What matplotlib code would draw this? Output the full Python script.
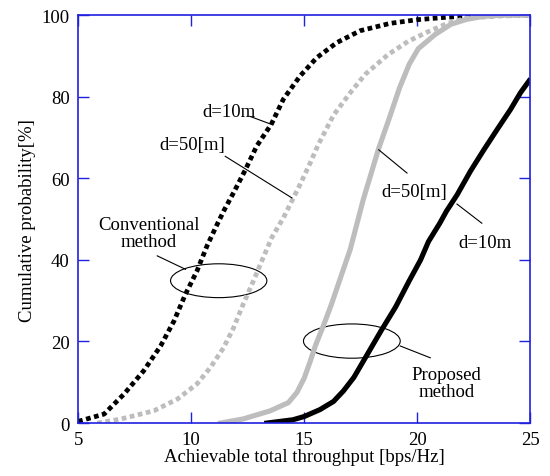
import matplotlib
matplotlib.use("Agg")
import matplotlib.pyplot as plt
from matplotlib.patches import Ellipse

# CDF curves, throughput [bps/Hz] vs cumulative probability [%]
conv10_x = [5.0, 6.15, 7.03, 7.9, 8.65, 9.24, 9.75, 10.26, 10.7, 11.15, 11.47, 11.88,
            12.4, 12.9, 13.55, 14.08, 14.82, 15.56, 16.45, 17.48, 18.8, 20.0, 21.3, 23.0, 25.0]
conv10_y = [0.4, 2.2, 7.1, 12.8, 18.9, 25.0, 31.6, 37.3, 43.4, 48.7, 52.3, 56.5,
            62.1, 67.9, 73.3, 79.4, 85.1, 89.6, 93.3, 96.2, 98.0, 98.9, 99.5, 100, 100]

conv50_x = [5.85, 6.9, 8.35, 9.4, 10.26, 10.85, 11.44, 11.88, 12.3, 12.76, 13.13, 13.57,
            14.09, 14.46, 14.82, 15.27, 15.6, 16.3, 17.04, 17.7, 18.7, 19.6, 20.5, 21.3,
            22.2, 23.7, 25.0]
conv50_y = [0, 1, 3, 5.9, 9.6, 13.6, 18.5, 23.4, 29.1, 34.9, 39.8, 45.5,
            50.4, 54.5, 58.5, 63.8, 68.0, 75.5, 81, 85.5, 90.3, 93.6, 96.0, 97.9,
            99.3, 99.8, 100]

prop50_x = [11.3, 12.3, 13.5, 14.3, 14.68, 15.0, 15.26, 15.5, 15.86, 16.2, 16.6, 17.04,
            17.62, 18.29, 18.8, 19.22, 19.65, 20.05, 20.8, 21.5, 22.2, 22.9, 23.7, 25.0]
prop50_y = [0, 1, 3, 5.0, 7.5, 11.0, 15.0, 19.0, 24.0, 29.0, 35.5, 42.6,
            54.9, 67.2, 75.3, 82.2, 88.0, 91.8, 95.3, 97.8, 99, 99.7, 100, 100]

prop10_x = [13.35, 14.5, 15.0, 15.7, 16.3, 16.74, 17.2, 17.8, 18.4, 19.05, 19.65, 20.15,
            20.5, 21.0, 21.3, 21.77, 22.36, 22.95, 23.54, 24.13, 24.57, 24.95]
prop10_y = [0, 0.8, 1.6, 3.3, 5.3, 7.9, 11.2, 16.9, 22.6, 28.5, 34.9, 40.0,
            44.5, 49.0, 52.0, 56.0, 61.8, 67, 72, 76.9, 81, 83.9]

x_ticks = [5, 10, 15, 20, 25]
y_ticks = [0, 20, 40, 60, 80, 100]

plt.rcParams['font.family'] = ['Liberation Serif', 'DejaVu Serif']
axis_blue = '#2020e0'
grey = '#bdbdbd'
fs = 13.5

fig = plt.figure(figsize=(5.5, 4.77), dpi=100)
ax = fig.add_axes([0.142, 0.111, 0.822, 0.855])

dots = (0, (1.0, 0.75))
ax.plot(conv10_x, conv10_y, color='black', lw=3.4, ls=dots, dash_capstyle='butt')
ax.plot(conv50_x, conv50_y, color=grey, lw=3.4, ls=dots, dash_capstyle='butt')
ax.plot(prop50_x, prop50_y, color=grey, lw=3.7, solid_joinstyle='round')
ax.plot(prop10_x, prop10_y, color='black', lw=3.7, solid_joinstyle='round')

ax.set_xlim(5, 25)
ax.set_ylim(0, 100)
ax.set_xticks(x_ticks)
ax.set_yticks(y_ticks)
ax.tick_params(direction='in', length=8, width=1, color=axis_blue,
               top=True, right=True, labelsize=fs, pad=6)
for sp in ax.spines.values():
    sp.set_color(axis_blue)
    sp.set_linewidth(1.2)

ax.set_xlabel('Achievable total throughput [bps/Hz]', fontsize=fs, labelpad=0)
ax.set_ylabel('Cumulative probability[%]', fontsize=fs, labelpad=4)

# curve labels with leader lines
kw = dict(fontsize=fs, ha='center', va='center')
ax.text(11.66, 76.5, 'd=10m', **kw)
ax.plot([12.6, 13.57], [75.2, 73.2], color='black', lw=0.8)
ax.text(10.04, 68.3, 'd=50[m]', **kw)
ax.plot([11.51, 14.46], [65.4, 55.2], color='black', lw=0.8)
ax.text(19.85, 56.8, 'd=50[m]', **kw)
ax.plot([18.3, 19.55], [67, 61.3], color='black', lw=0.8)
ax.text(23.0, 44.3, 'd=10m', **kw)
ax.plot([21.76, 22.86], [53.7, 49.0], color='black', lw=0.8)

# method groups
ax.text(8.13, 46.5, 'Conventional\nmethod', fontsize=fs, ha='center', va='center',
        linespacing=1.0)
ax.plot([8.5, 9.75], [41.0, 37.7], color='black', lw=0.8)
ax.add_patch(Ellipse((11.22, 34.9), 4.26, 8.3, fill=False, lw=0.8, ec='black'))

ax.text(21.3, 9.7, 'Proposed\nmethod', fontsize=fs, ha='center', va='center',
        linespacing=1.0)
ax.plot([19.25, 20.58], [18.9, 16.0], color='black', lw=0.8)
ax.add_patch(Ellipse((17.11, 20.1), 4.28, 8.4, fill=False, lw=0.8, ec='black'))

fig.savefig('out.png', dpi=100)
